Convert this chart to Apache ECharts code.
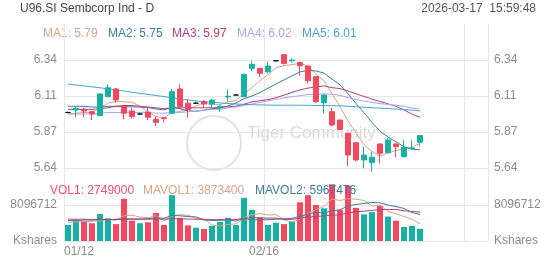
<!DOCTYPE html>
<html><head><meta charset="utf-8">
<script src="https://cdn.jsdelivr.net/npm/echarts@6/dist/echarts.min.js"></script>
<style>html,body{margin:0;padding:0;background:#fff}#c{width:552px;height:265px}</style>
</head><body><div id="c"></div>
<script>
const dates = ['01/12','01/13','01/14','01/15','01/16','01/19','01/20','01/21','01/22','01/23','01/26','01/27','01/28','01/29','01/30','02/02','02/03','02/04','02/05','02/06','02/09','02/10','02/11','02/12','02/13','02/16','02/19','02/20','02/23','02/24','02/25','02/26','02/27','03/02','03/03','03/04','03/05','03/06','03/09','03/10','03/11','03/12','03/13','03/16','03/17'];
const open  = [6.00,6.016,6.02,6.005,5.979,6.102,6.152,6.037,6.01,5.99,6.003,5.956,5.965,5.995,6.152,6.06,6.06,6.07,6.055,6.03,6.10,6.113,6.102,6.286,6.286,6.264,6.335,6.374,6.335,6.323,6.301,6.232,6.063,6.005,5.951,5.865,5.804,5.692,5.675,5.796,5.739,5.796,5.713,5.765,5.807];
const close = [6.00,6.027,6.01,5.99,6.12,6.16,6.081,5.995,5.973,5.99,5.969,5.936,5.96,6.135,6.037,6.02,6.06,6.055,6.08,6.04,6.105,6.113,6.247,6.312,6.254,6.301,6.335,6.318,6.34,6.303,6.206,6.07,6.113,5.919,5.89,5.724,5.692,5.724,5.71,5.735,5.822,5.778,5.774,5.77,5.85];
const low   = [5.995,5.969,5.97,5.95,5.977,6.098,6.063,5.956,5.96,5.985,5.95,5.912,5.934,5.99,6.027,5.966,6.055,6.03,6.03,6.005,6.07,6.11,6.10,6.27,6.23,6.254,6.33,6.31,6.323,6.238,6.19,6.06,5.995,5.91,5.886,5.653,5.681,5.638,5.616,5.67,5.739,5.71,5.71,5.758,5.78];
const high  = [6.005,6.037,6.03,6.01,6.124,6.182,6.16,6.046,6.03,5.995,6.03,5.973,5.965,6.152,6.182,6.085,6.065,6.08,6.087,6.046,6.15,6.116,6.253,6.335,6.286,6.33,6.34,6.38,6.35,6.327,6.301,6.232,6.113,6.03,5.951,5.865,5.804,5.778,5.746,5.796,5.833,5.80,5.822,5.82,5.854];
const ma1 = [5.99,5.995,6.00,6.00,6.029,6.061,6.072,6.069,6.066,6.040,6.002,5.973,5.966,5.998,6.007,6.018,6.042,6.061,6.050,6.051,6.068,6.079,6.117,6.163,6.206,6.245,6.290,6.304,6.310,6.319,6.300,6.247,6.206,6.122,6.040,5.943,5.868,5.790,5.748,5.717,5.737,5.754,5.764,5.776,5.799];
const ma2 = [6.04,6.04,6.04,6.035,6.035,6.04,6.04,6.038,6.036,6.035,6.032,6.022,6.017,6.032,6.024,6.010,6.008,6.014,6.024,6.029,6.043,6.061,6.089,6.107,6.129,6.157,6.184,6.211,6.237,6.263,6.273,6.269,6.255,6.216,6.180,6.122,6.058,5.998,5.935,5.878,5.840,5.811,5.777,5.762,5.758];
const ma3 = [6.02,6.02,6.02,6.02,6.025,6.03,6.04,6.045,6.045,6.04,6.035,6.03,6.025,6.03,6.03,6.03,6.03,6.03,6.03,6.032,6.037,6.041,6.053,6.069,6.076,6.083,6.096,6.112,6.130,6.146,6.158,6.165,6.172,6.161,6.154,6.139,6.121,6.104,6.086,6.071,6.056,6.040,6.016,5.989,5.969];
const ma4 = [5.99,5.99,5.99,5.99,5.995,6.00,6.00,6.00,6.00,6.00,6.00,5.995,5.995,6.00,6.00,6.005,6.01,6.015,6.02,6.02,6.03,6.035,6.045,6.055,6.065,6.075,6.085,6.095,6.102,6.109,6.116,6.117,6.121,6.118,6.111,6.096,6.083,6.074,6.065,6.057,6.052,6.047,6.040,6.028,6.022];
const ma5 = [6.184,6.178,6.172,6.166,6.16,6.153,6.146,6.139,6.131,6.124,6.117,6.11,6.103,6.095,6.088,6.081,6.075,6.07,6.066,6.062,6.058,6.055,6.052,6.05,6.049,6.048,6.047,6.047,6.047,6.047,6.046,6.045,6.045,6.044,6.043,6.04,6.037,6.034,6.031,6.028,6.025,6.022,6.019,6.015,6.01];
const volume = [3600000,4500000,4500000,4000000,6070000,5100000,3800000,9500000,4570000,4000000,4200000,6300000,3600000,10300000,5200000,3500000,3000000,2700000,3400000,4300000,5200000,3600000,9700000,7000000,5300000,3600000,4100000,3800000,4400000,8700000,10300000,8100000,7350000,12750000,7000000,12450000,7450000,6000000,6500000,7900000,5500000,4570000,3150000,3400000,2749000];
const mavol1 = [4.2,4.3,4.4,4.4,4.53,4.83,4.69,5.69,5.81,5.39,5.21,5.71,4.53,5.68,5.92,5.78,5.12,4.94,3.56,3.38,3.72,3.84,5.24,5.96,6.16,5.84,5.94,4.76,4.24,4.92,6.26,7.06,7.77,9.44,9.10,9.53,9.40,9.13,7.88,8.06,6.67,6.09,5.52,4.90,3.87];
const mavol2 = [4.6,4.6,4.7,4.7,4.8,4.8,4.9,5.0,5.0,4.96,5.02,5.20,5.11,5.74,5.66,5.50,5.42,4.74,4.62,4.65,4.75,4.48,5.09,4.76,4.77,4.78,4.89,5.00,5.10,5.54,6.05,6.50,6.27,6.84,7.01,7.90,8.23,8.45,8.66,8.58,8.10,7.75,7.33,6.39,5.97];
const mavol3 = [4.9,4.9,4.9,4.85,4.85,4.85,4.8,4.9,4.9,4.9,4.9,4.95,4.9,5.0,5.0,4.95,4.9,4.85,4.8,4.81,4.89,4.84,5.10,5.25,5.21,5.14,5.15,4.87,4.86,5.10,5.40,5.49,5.68,5.80,5.89,6.34,6.56,6.73,6.88,7.06,7.08,7.12,6.80,6.62,6.49];
const priceTicks = [5.64, 5.87, 6.11, 6.34];
const volTicks = ['Kshares', '8096712'];
const maLegend = [['MA1', '5.79'], ['MA2', '5.75'], ['MA3', '5.97'], ['MA4', '6.02'], ['MA5', '6.01']];
const volLegend = [['VOL1', '2749000'], ['MAVOL1', '3873400'], ['MAVOL2', '5967476']];
const titleText = 'U96.SI Sembcorp Ind - D';
const timeText = '2026-03-17  15:59:48';
const watermark = 'Tiger Community';

const UP = '#15b2a1', DOWN = '#f5475f';
const maColors = ['#d6a487', '#3d7c9e', '#b3407b', '#a9a9e6', '#4aa2d6'];
const volColors = ['#f0506a', '#d6a487', '#3d7c9e', '#b3407b'];
const TOTAL = 53;
const catAxis = dates.concat(Array.from({length: TOTAL - dates.length}, (_, k) => 'p' + k));
const lblAxis = dates.concat(Array.from({length: TOTAL + 1 - dates.length}, (_, k) => 'q' + k));
const gridLine = '#e6e6e6', labelColor = '#8c8c8c';
const font = 'Arial, "Liberation Sans", sans-serif';

const step = (priceTicks[3] - priceTicks[0]) / 3;
const pMin = priceTicks[0] - step, pMax = priceTicks[3] + step;
const vStep = Number(volTicks[1]);

const chart = echarts.init(document.getElementById('c'), null, {renderer: 'canvas'});
const splitIdx = [0, 25, 50, 53];
function lblX(gi, showLabel) {
  return {type: 'category', gridIndex: gi, position: 'bottom', data: lblAxis, boundaryGap: false,
    axisLine: {show: false}, axisTick: {show: false},
    axisLabel: {show: showLabel, interval: (i) => i === 0 || i === 25, color: labelColor, fontSize: 12, fontFamily: font, margin: 5, alignMinLabel: 'left', showMinLabel: true},
    splitLine: {show: true, interval: (i) => splitIdx.includes(i), lineStyle: {color: gridLine, width: 1}}};
}
function pY(pos) {
  return {type: 'value', gridIndex: 0, position: pos, min: pMin, max: pMax, interval: step,
    axisLine: {show: true, lineStyle: {color: gridLine}}, axisTick: {show: false},
    axisLabel: {color: labelColor, fontSize: 12, fontFamily: font, margin: pos === 'left' ? 7 : 6, showMinLabel: false, showMaxLabel: false, formatter: (v) => v.toFixed(2)},
    splitLine: {show: pos === 'left', showMinLine: false, showMaxLine: false, lineStyle: {color: gridLine}}};
}
function vY(pos) {
  return {type: 'value', gridIndex: 1, position: pos, min: 0, max: vStep * 2, interval: vStep,
    axisLine: {show: true, lineStyle: {color: gridLine}}, axisTick: {show: false},
    axisLabel: {color: labelColor, fontSize: 12, fontFamily: font, margin: pos === 'left' ? 7 : 6, showMaxLabel: false, formatter: (v) => v === 0 ? volTicks[0] : (v === vStep ? volTicks[1] : '')},
    splitLine: {show: pos === 'left', showMinLine: true, showMaxLine: false, lineStyle: {color: gridLine}}};
}
function line(name, data, color, xi, yi) {
  return {name, type: 'line', data, xAxisIndex: xi, yAxisIndex: yi, symbol: 'none', smooth: false,
    lineStyle: {color, width: 1}, itemStyle: {color}, z: 3, silent: true};
}
const graphics = [];
graphics.push({type: 'circle', shape: {cx: 214, cy: 143, r: 27}, style: {fill: 'none', stroke: '#e2e2e2', lineWidth: 2}, z: 0, silent: true});
graphics.push({type: 'text', x: 247, y: 133, style: {text: watermark, font: '17px ' + font, fill: '#d9d9d9', verticalAlign: 'middle'}, z: 0, silent: true});
graphics.push({type: 'text', x: 20, y: 9, style: {text: titleText, font: '12px ' + font, fill: '#444', verticalAlign: 'middle'}});
graphics.push({type: 'text', x: 536, y: 9, style: {text: timeText, font: '12px ' + font, fill: '#555', align: 'right', verticalAlign: 'middle'}});
const maX = [43, 108, 172, 237, 302];
maLegend.forEach((m, i) => graphics.push({type: 'text', x: maX[i], y: 34, style: {text: m[0] + ': ' + m[1], font: '12px ' + font, fill: maColors[i], verticalAlign: 'middle'}}));
const volX = [50, 143, 255];
volLegend.forEach((m, i) => graphics.push({type: 'text', x: volX[i], y: 191, style: {text: m[0] + ': ' + m[1], font: '12px ' + font, fill: volColors[i], verticalAlign: 'middle'}, z: 10}));

chart.setOption({
  animation: false,
  backgroundColor: '#fff',
  grid: [
    {left: 64, right: 64, top: 24, height: 180},
    {left: 64, right: 64, top: 169, height: 72}
  ],
  xAxis: [
    {type: 'category', gridIndex: 0, position: 'bottom', data: catAxis, boundaryGap: true, show: false},
    {type: 'category', gridIndex: 1, position: 'bottom', data: catAxis, boundaryGap: true, show: false},
    lblX(0, false),
    lblX(1, true)
  ],
  yAxis: [pY('left'), pY('right'), vY('left'), vY('right')],
  graphic: graphics,
  series: [
    {type: 'bar', xAxisIndex: 1, yAxisIndex: 2, barWidth: 6, z: 2,
      data: volume.map((v, i) => ({value: v, itemStyle: {color: close[i] >= open[i] ? UP : DOWN}}))},
    line('MAVOL1', mavol1.map(v => v * 1e6), volColors[1], 1, 2),
    line('MAVOL2', mavol2.map(v => v * 1e6), volColors[2], 1, 2),
    line('MAVOL3', mavol3.map(v => v * 1e6), volColors[3], 1, 2),
    {type: 'candlestick', xAxisIndex: 0, yAxisIndex: 0, barWidth: 6, z: 4,
      data: dates.map((d, i) => [open[i], close[i], low[i], high[i]]),
      itemStyle: {color: UP, color0: DOWN, borderColor: UP, borderColor0: DOWN, borderColorDoji: '#111', borderWidth: 1}},
    line('MA1', ma1, maColors[0], 0, 0),
    line('MA2', ma2, maColors[1], 0, 0),
    line('MA3', ma3, maColors[2], 0, 0),
    line('MA4', ma4, maColors[3], 0, 0),
    line('MA5', ma5, maColors[4], 0, 0)
  ]
});
</script></body></html>
